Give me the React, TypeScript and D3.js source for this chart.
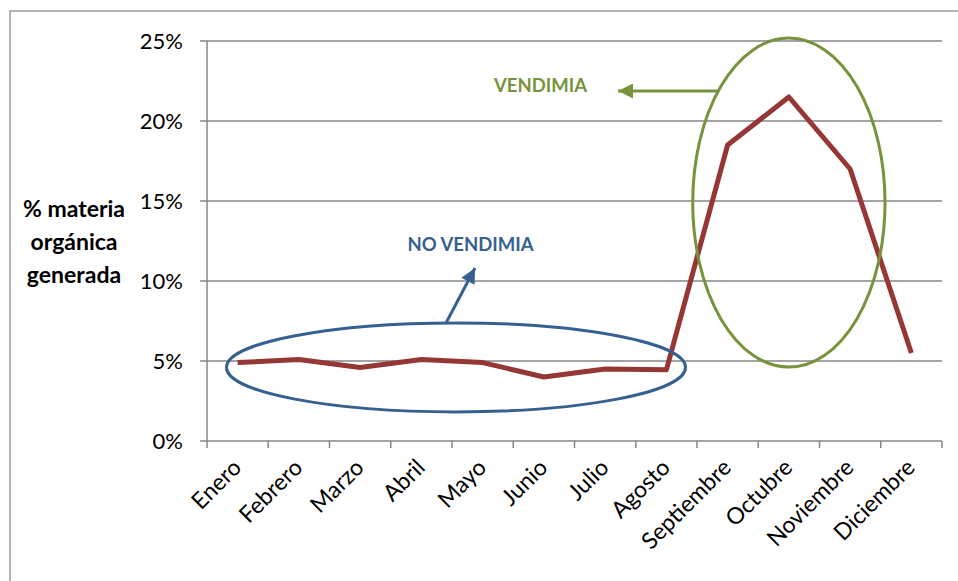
import React from "react";
import * as d3 from "d3";

const months = [
  "Enero", "Febrero", "Marzo", "Abril", "Mayo", "Junio",
  "Julio", "Agosto", "Septiembre", "Octubre", "Noviembre", "Diciembre",
];
const organicShare = [4.9, 5.1, 4.6, 5.1, 4.9, 4.0, 4.5, 4.45, 18.5, 21.5, 17.0, 5.5];
const yTicks = [0, 5, 10, 15, 20, 25];
const yTitleLines = ["% materia", "orgánica", "generada"];

const W = 958;
const H = 581;
const plot = { left: 207, right: 942, top: 41, bottom: 441 };
const FONT = "Lato, 'Open Sans', sans-serif";
const GRID = "#868686";
const RED = "#953735";
const GREEN = "#77933C";
const BLUE = "#376092";

export default function App() {
  const x = d3.scaleBand<string>().domain(months).range([plot.left, plot.right]);
  const y = d3.scaleLinear().domain([0, 25]).range([plot.bottom, plot.top]);
  const cx = (m: string) => (x(m) as number) + x.bandwidth() / 2;

  const line = d3
    .line<number>()
    .x((_, i) => cx(months[i]))
    .y((d) => y(d));

  const bw = x.bandwidth();
  const tickXs = months.map((m) => x(m) as number).concat([plot.right]);

  // harvest ellipse around the autumn peak
  const gEll = { cx: cx("Octubre"), cy: y(14.9), rx: bw * 1.57, ry: y(0) - y(10.28) };
  // ellipse around the flat months
  const bEll = { cx: (x("Mayo") as number) + 4, cy: y(4.6), rx: 229.5, ry: y(0) - y(2.78) };

  return (
    <svg
      width={W}
      height={H}
      style={{ position: "absolute", left: 0, top: 0, background: "#fff" }}
      fontFamily={FONT}
    >
      <defs>
        <marker id="arrG" viewBox="0 0 10 10" refX="10" refY="5" markerWidth="5.5" markerHeight="5" orient="auto" markerUnits="strokeWidth">
          <path d="M0,0 L10,5 L0,10 z" fill={GREEN} />
        </marker>
        <marker id="arrB" viewBox="0 0 10 10" refX="10" refY="5" markerWidth="5.5" markerHeight="5" orient="auto" markerUnits="strokeWidth">
          <path d="M0,0 L10,5 L0,10 z" fill={BLUE} />
        </marker>
      </defs>

      {/* chart frame */}
      <rect x={10} y={11} width={W + 20} height={H + 20} fill="none" stroke="#9a9a9a" strokeWidth={1.5} />

      {/* gridlines + y ticks */}
      {yTicks.map((t) => (
        <g key={t}>
          {t > 0 && (
            <line x1={plot.left} x2={plot.right} y1={y(t)} y2={y(t)} stroke={GRID} strokeWidth={1.5} />
          )}
          <line x1={plot.left - 7} x2={plot.left} y1={y(t)} y2={y(t)} stroke={GRID} strokeWidth={1.5} />
          <text x={183} y={y(t)} dy="0.36em" textAnchor="end" fontSize={22} fill="#000">
            {t}%
          </text>
        </g>
      ))}

      {/* axes */}
      <line x1={plot.left} x2={plot.left} y1={plot.top} y2={plot.bottom} stroke={GRID} strokeWidth={1.5} />
      <line x1={plot.left} x2={plot.right} y1={plot.bottom} y2={plot.bottom} stroke={GRID} strokeWidth={1.5} />
      {tickXs.map((tx, i) => (
        <line key={i} x1={tx} x2={tx} y1={plot.bottom} y2={plot.bottom + 7} stroke={GRID} strokeWidth={1.5} />
      ))}

      {/* month labels */}
      {months.map((m) => (
        <text
          key={m}
          transform={`translate(${cx(m) + 5},${plot.bottom + 28}) rotate(-45)`}
          textAnchor="end"
          fontSize={23}
          fill="#000"
        >
          {m}
        </text>
      ))}

      {/* y axis title */}
      <text textAnchor="middle" fontWeight="bold" fontSize={23} fill="#000">
        {yTitleLines.map((l, i) => (
          <tspan key={l} x={74} y={217 + i * 33}>
            {l}
          </tspan>
        ))}
      </text>

      {/* series */}
      <path d={line(organicShare) ?? ""} fill="none" stroke={RED} strokeWidth={5} strokeLinejoin="round" />

      {/* annotations */}
      <ellipse cx={gEll.cx} cy={gEll.cy} rx={gEll.rx} ry={gEll.ry} fill="none" stroke={GREEN} strokeWidth={3} />
      <line x1={717} y1={91} x2={618} y2={91} stroke={GREEN} strokeWidth={3} markerEnd="url(#arrG)" />
      <text x={494} y={92} fontWeight="bold" fontSize={18.5} fill={GREEN}>
        VENDIMIA
      </text>

      <ellipse cx={bEll.cx} cy={bEll.cy} rx={bEll.rx} ry={bEll.ry} fill="none" stroke={BLUE} strokeWidth={3} />
      <line x1={446} y1={323} x2={475} y2={268} stroke={BLUE} strokeWidth={3} markerEnd="url(#arrB)" />
      <text x={470.5} y={251} textAnchor="middle" fontWeight="bold" fontSize={18.5} fill={BLUE}>
        NO VENDIMIA
      </text>
    </svg>
  );
}
